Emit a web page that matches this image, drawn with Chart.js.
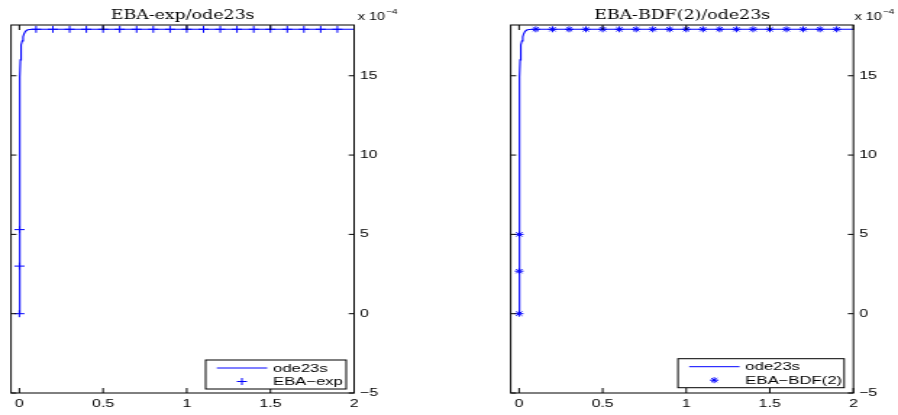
<!DOCTYPE html>
<html><head><meta charset="utf-8">
<script src="https://cdn.jsdelivr.net/npm/chart.js@4.4.1/dist/chart.umd.min.js"></script>
<style>
html,body{margin:0;padding:0;background:#fff;}
#wrap{position:relative;width:898px;height:415px;overflow:hidden;background:#fff;}
canvas{position:absolute;top:0;}
</style></head><body>
<div id="wrap">
<canvas id="c1" width="310" height="415" style="left:0px;width:449px;height:415px"></canvas>
<canvas id="c2" width="310" height="415" style="left:449px;width:449px;height:415px"></canvas>
</div>
<script>
// ---- data (y values in units of 1e-4) ----
const odeT = [0, 0.0005, 0.001, 0.0015, 0.002, 0.003, 0.004, 0.005, 0.006, 0.008, 0.010, 0.013, 0.017, 0.022, 0.028, 0.036, 0.046, 0.06, 0.08, 0.1, 0.2, 0.3, 0.4, 0.5, 0.6, 0.7, 0.8, 0.9, 1.0, 1.1, 1.2, 1.3, 1.4, 1.5, 1.6, 1.7, 1.8, 1.9, 2.0];
const odeY = [0, 2.7, 5.0, 7.0, 8.7, 11.3, 13.3, 14.9, 16.0, 16.5, 16.75, 16.95, 17.2, 17.45, 17.65, 17.8, 17.88, 17.92, 17.93, 17.93, 17.93, 17.93, 17.93, 17.93, 17.93, 17.93, 17.93, 17.93, 17.93, 17.93, 17.93, 17.93, 17.93, 17.93, 17.93, 17.93, 17.93, 17.93, 17.93];
const expT = [0, 0.0006, 0.001, 0.1, 0.2, 0.3, 0.4, 0.5, 0.6, 0.7, 0.8, 0.9, 1.0, 1.1, 1.2, 1.3, 1.4, 1.5, 1.6, 1.7, 1.8, 1.9];
const expY = [0, 3.0, 5.3, 17.93, 17.93, 17.93, 17.93, 17.93, 17.93, 17.93, 17.93, 17.93, 17.93, 17.93, 17.93, 17.93, 17.93, 17.93, 17.93, 17.93, 17.93, 17.93];
const bdfT = [0, 0.0005, 0.001, 0.1, 0.2, 0.3, 0.4, 0.5, 0.6, 0.7, 0.8, 0.9, 1.0, 1.1, 1.2, 1.3, 1.4, 1.5, 1.6, 1.7, 1.8, 1.9];
const bdfY = [0, 2.68, 5.0, 17.93, 17.93, 17.93, 17.93, 17.93, 17.93, 17.93, 17.93, 17.93, 17.93, 17.93, 17.93, 17.93, 17.93, 17.93, 17.93, 17.93, 17.93, 17.93];
const xTicks = [0, 0.5, 1, 1.5, 2];
const yTicks = [-5, 0, 5, 10, 15];
const xRange = [-0.05, 2];
const yRange = [-5, 18.2];
const titles = ['EBA-exp/ode23s', 'EBA-BDF(2)/ode23s'];
const lineName = 'ode23s';
const markerNames = ['EBA\u2212exp', 'EBA\u2212BDF(2)'];
const exponentText = ['x 10', '\u22124'];

const BLUE = 'rgb(0,0,255)';
const pts = (xs, ys) => xs.map((x, i) => ({x: x, y: ys[i]}));

function drawMarker(ctx, style, r, x, y) {
  ctx.beginPath();
  ctx.moveTo(x - r, y); ctx.lineTo(x + r, y);
  ctx.moveTo(x, y - r); ctx.lineTo(x, y + r);
  if (style === 'star') {
    const d = r * 0.7071;
    ctx.moveTo(x - d, y - d); ctx.lineTo(x + d, y + d);
    ctx.moveTo(x - d, y + d); ctx.lineTo(x + d, y - d);
  }
  ctx.stroke();
}

const decor = {
  id: 'decor',
  afterDraw(chart, args, o) {
    const ctx = chart.ctx, a = chart.chartArea;
    const xs = chart.scales.x, ys = chart.scales.y;
    ctx.save();
    ctx.strokeStyle = '#000';
    ctx.lineWidth = 1;
    // axes box
    ctx.strokeRect(a.left, a.top, a.right - a.left, a.bottom - a.top);
    // inward tick marks on all four sides
    ctx.beginPath();
    xTicks.forEach(v => {
      const px = xs.getPixelForValue(v);
      ctx.moveTo(px, a.bottom); ctx.lineTo(px, a.bottom - 5);
      ctx.moveTo(px, a.top); ctx.lineTo(px, a.top + 5);
    });
    yTicks.forEach(v => {
      const py = ys.getPixelForValue(v);
      ctx.moveTo(a.left, py); ctx.lineTo(a.left + 3.8, py);
      ctx.moveTo(a.right, py); ctx.lineTo(a.right - 3.8, py);
    });
    ctx.stroke();
    // title
    ctx.fillStyle = '#000';
    ctx.font = '12px "DejaVu Serif"';
    ctx.textAlign = 'center';
    ctx.textBaseline = 'alphabetic';
    ctx.fillText(o.title, (a.left + a.right) / 2, 18.5);
    // exponent label
    ctx.textAlign = 'left';
    ctx.font = '10px "Liberation Sans"';
    const ex = a.right + o.expDx;
    ctx.fillText(exponentText[0], ex, 19.5);
    const w = ctx.measureText(exponentText[0]).width;
    ctx.font = '7px "Liberation Sans"';
    ctx.fillText(exponentText[1], ex + w + 0.5, 14);
    // legend
    const bl = a.right - o.legW - o.legDr, bt = a.bottom - o.legH - o.legDb;
    ctx.fillStyle = '#fff';
    ctx.fillRect(bl, bt, o.legW, o.legH);
    ctx.strokeStyle = '#000';
    ctx.strokeRect(bl, bt, o.legW, o.legH);
    const ds = chart.data.datasets;
    const r1 = bt + 8, r2 = bt + 21.5;
    ctx.strokeStyle = BLUE;
    ctx.lineWidth = 1;
    ctx.beginPath(); ctx.moveTo(bl + 7.7, r1); ctx.lineTo(bl + 42.5, r1); ctx.stroke();
    drawMarker(ctx, ds[1].pointStyle, ds[1].pointRadius, bl + 25, r2);
    ctx.fillStyle = '#000';
    ctx.font = '11.5px "Liberation Sans"';
    ctx.textBaseline = 'middle';
    ctx.fillText(ds[0].label, bl + 46.5, r1 + 0.5);
    ctx.fillText(ds[1].label, bl + 46.5, r2 + 0.5);
    ctx.restore();
  }
};

function makeChart(id, idx, markerT, markerY, style, radius, padLeft, yWidth, legW, legDr, legDb, expDx) {
  return new Chart(document.getElementById(id), {
    type: 'scatter',
    data: {
      datasets: [
        {label: lineName, data: pts(odeT, odeY), showLine: true, borderColor: BLUE, borderWidth: 1.1, pointRadius: 0, pointHoverRadius: 0, tension: 0, order: 2},
        {label: markerNames[idx], data: pts(markerT, markerY), showLine: false, pointStyle: style, pointRadius: radius, pointHoverRadius: radius, borderColor: BLUE, backgroundColor: BLUE, pointBorderWidth: 1, borderWidth: 1, order: 1}
      ]
    },
    options: {
      responsive: false,
      animation: false,
      devicePixelRatio: 1,
      events: [],
      layout: {padding: {left: padLeft, top: 25, right: 0, bottom: 0}},
      plugins: {
        legend: {display: false},
        tooltip: {enabled: false},
        title: {display: false},
        decor: {title: titles[idx], legW: legW, legH: 29, legDr: legDr, legDb: legDb, expDx: expDx}
      },
      scales: {
        x: {
          type: 'linear', position: 'bottom', min: xRange[0], max: xRange[1],
          afterBuildTicks: s => { s.ticks = xTicks.map(v => ({value: v})); },
          afterFit: s => { s.height = 22; },
          grid: {display: false, drawTicks: false},
          border: {display: false},
          ticks: {color: '#000', font: {family: 'Liberation Sans', size: 11}, padding: 4, maxRotation: 0, autoSkip: false,
                  callback: v => String(v)}
        },
        y: {
          type: 'linear', position: 'right', min: yRange[0], max: yRange[1],
          afterBuildTicks: s => { s.ticks = yTicks.map(v => ({value: v})); },
          afterFit: s => { s.width = yWidth; },
          grid: {display: false, drawTicks: false},
          border: {display: false},
          ticks: {color: '#000', font: {family: 'Liberation Sans', size: 11}, padding: 4, autoSkip: false,
                  callback: v => v < 0 ? '\u2212' + Math.abs(v) : String(v)}
        }
      }
    },
    plugins: [decor]
  });
}

makeChart('c1', 0, expT, expY, 'cross', 3.5, 7.6, 65.5, 97, 5.5, 4, 2.5);
makeChart('c2', 1, bdfT, bdfY, 'star', 3, 42.6, 30.8, 114.7, 6.4, 5.3, 0.8);
</script>
</body></html>
